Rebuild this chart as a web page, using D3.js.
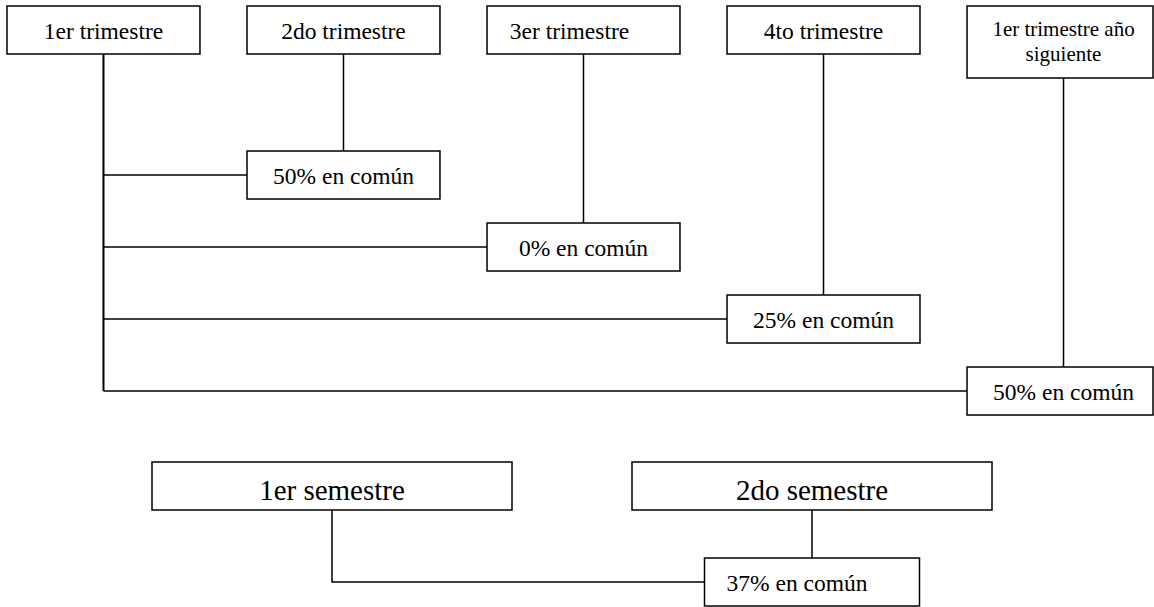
<!DOCTYPE html>
<html>
<head>
<meta charset="utf-8">
<script src="https://cdn.jsdelivr.net/npm/d3@7"></script>
<style>
  body { margin: 0; background: #fff; }
  svg { display: block; }
  .box { fill: #fff; stroke: #000; stroke-width: 1.5; }
  .link { fill: none; stroke: #000; stroke-width: 1.5; }
  .trunk { stroke-width: 2; }
</style>
</head>
<body>
<div id="chart"></div>
<script>
// periods compared against the 1er trimestre
const quarters = ["1er trimestre", "2do trimestre", "3er trimestre", "4to trimestre", "1er trimestre año siguiente"];
// % in common of each later period with the 1er trimestre
const quarterShared = [50, 0, 25, 50];
const semesters = ["1er semestre", "2do semestre"];
const semesterShared = [37];

(function(){
    let w = 1154, h = 607;

    let svg = d3.select("#chart").append("svg")
        .attr("width", w)
        .attr("height", h)
        .style("font-family", "Liberation Serif");

    let x = d3.scaleBand().domain(quarters).range([7, 1160]).paddingInner(0.196);
    let y = d3.scalePoint().domain(quarters.slice(1)).range([151, 367]);
    let xs = d3.scaleBand().domain(semesters).range([152, 992]).paddingInner(0.25);

    let boxH = 48, topY = 6;
    let nudge = { "3er trimestre": -14, "37% en común": -15 };

    // wrap long labels in two lines
    function lines(label) {
        return label.length > 20 ? ["1er trimestre año", label.slice(18)] : [label];
    }

    let links = svg.append("g");
    let boxes = svg.append("g");

    function box(x0, y0, bw, bh, label, size, dy) {
        let g = boxes.append("g");
        g.append("rect")
            .attr("class", "box")
            .attr("x", x0)
            .attr("y", y0)
            .attr("width", Math.min(bw, w - 1 - x0))
            .attr("height", bh);
        let ls = lines(label);
        ls.forEach(function (l, i) {
            g.append("text")
                .attr("text-anchor", "middle")
                .attr("x", x0 + bw / 2 + (nudge[label] || 0))
                .attr("y", ls.length > 1 ? y0 + 30 + i * 25 : y0 + bh / 2 + dy)
                .style("font-family", "Liberation Serif")
                .style("font-size", (ls.length > 1 ? 21 : size) + "px")
                .text(l);
        });
        return g;
    }

    // top row: the quarters
    quarters.forEach(function (q) {
        let bh = lines(q).length > 1 ? boxH + 24 : boxH;
        box(x(q), topY, x.bandwidth(), bh, q, 23.5, 9);
    });

    let cx0 = x(quarters[0]) + x.bandwidth() / 2;
    let last = quarters[quarters.length - 1];

    // trunk down from the 1er trimestre
    links.append("path")
        .attr("class", "link trunk")
        .attr("d", "M" + cx0 + "," + (topY + boxH) + "V" + (y(last) + boxH / 2));

    quarters.slice(1).forEach(function (q, i) {
        let cx = x(q) + x.bandwidth() / 2;
        let bh = lines(q).length > 1 ? boxH + 24 : boxH;
        links.append("path")
            .attr("class", "link")
            .attr("d", "M" + cx + "," + (topY + bh) + "V" + y(q));
        links.append("path")
            .attr("class", "link")
            .attr("d", "M" + cx0 + "," + (y(q) + boxH / 2) + "H" + x(q));
        box(x(q), y(q), x.bandwidth(), boxH, quarterShared[i] + "% en común", 23.5, 9);
    });

    // bottom: semesters
    let semY = 462, resY = 558, resW = 215;
    semesters.forEach(function (s) {
        box(xs(s), semY, xs.bandwidth(), boxH, s, 29, 14);
    });

    let c1 = xs(semesters[0]) + xs.bandwidth() / 2;
    let c2 = xs(semesters[1]) + xs.bandwidth() / 2;
    let rx = c2 - resW / 2;

    links.append("path")
        .attr("class", "link")
        .attr("d", "M" + c1 + "," + (semY + boxH) + "V" + (resY + boxH / 2) + "H" + rx);
    links.append("path")
        .attr("class", "link")
        .attr("d", "M" + c2 + "," + (semY + boxH) + "V" + resY);

    box(rx, resY, resW, boxH, semesterShared[0] + "% en común", 23.5, 9);
})();
</script>
</body>
</html>
